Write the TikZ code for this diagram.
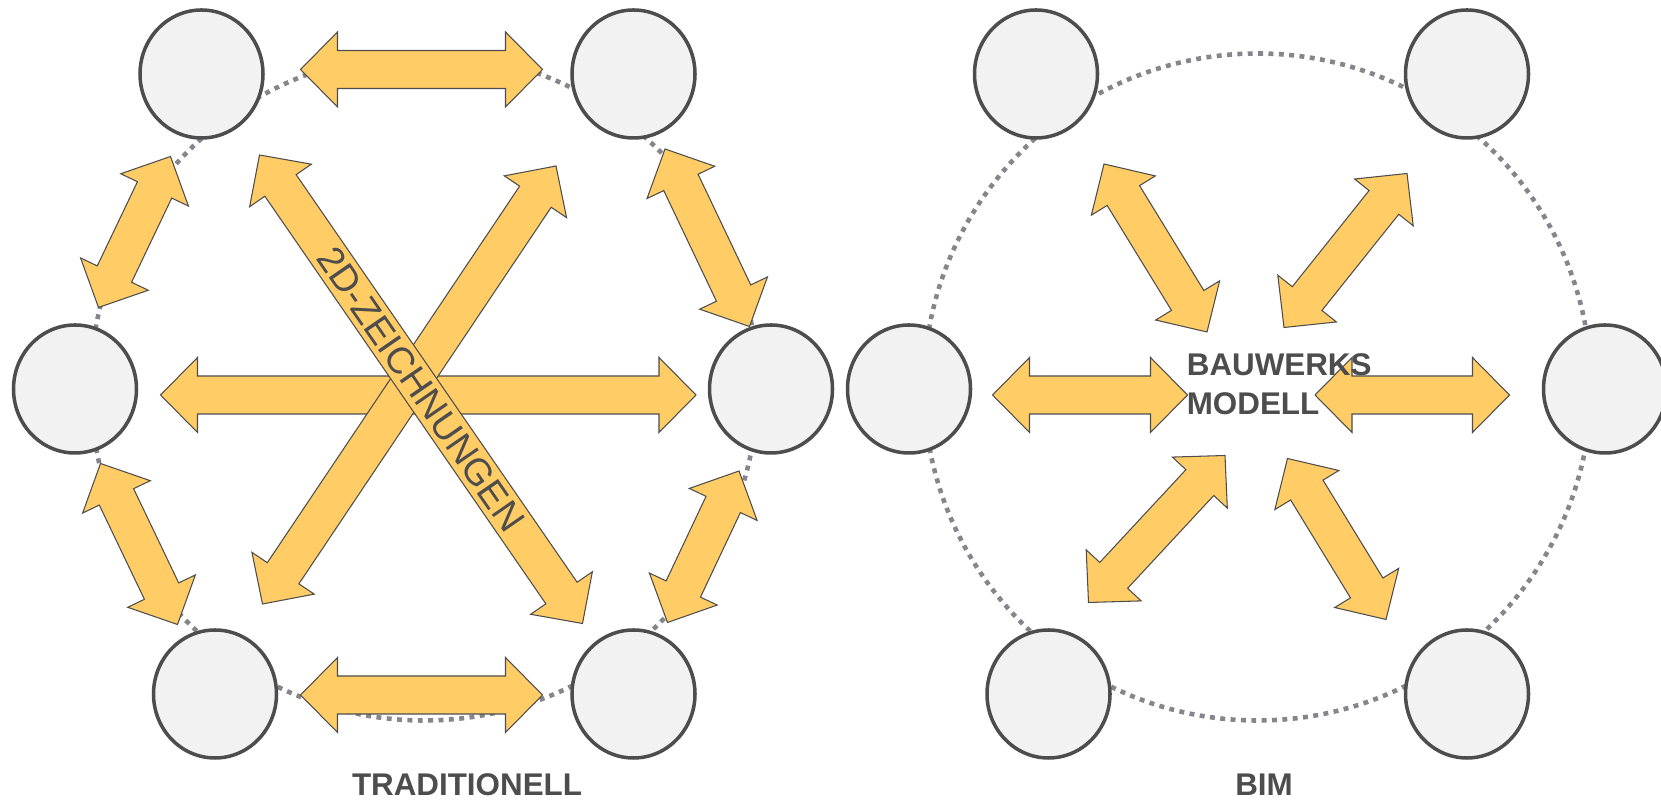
\documentclass[tikz,border=0pt]{standalone}
\usepackage{fontspec}
\setmainfont{Liberation Sans}
\usetikzlibrary{shapes.geometric,calc}

\definecolor{arrowfill}{HTML}{FFCC66}
\definecolor{darkline}{HTML}{4D4D4D}
\definecolor{partyfill}{HTML}{F2F2F2}
\definecolor{ringgray}{HTML}{85858C}

\tikzset{
  party/.style={ellipse, draw=darkline, line width=2pt, fill=partyfill, minimum width=2.46cm, minimum height=2.56cm, inner sep=0pt},
  ring/.style={draw=ringgray, line width=2.6pt, dash pattern=on 2.8pt off 3.1pt},
  farrow/.style={draw=darkline, line width=0.6pt, fill=arrowfill, line join=miter},
  caption/.style={text=darkline, font=\bfseries\fontsize{17.85}{22.3}\selectfont, inner sep=0pt},
  rotlabel/.style={text=darkline, font=\fontsize{21.3}{25}\selectfont, inner sep=0pt}
}

% fat double arrow between two named points
\newcommand{\fatarrow}[2]{%
  \draw[farrow] (#1)
    -- ($(#1)!0.74cm!(#2)!0.75cm!90:(#2)$)
    -- ($(#1)!0.74cm!(#2)!0.38cm!90:(#2)$)
    -- ($(#2)!0.74cm!(#1)!0.38cm!-90:(#1)$)
    -- ($(#2)!0.74cm!(#1)!0.75cm!-90:(#1)$)
    -- (#2)
    -- ($(#2)!0.74cm!(#1)!0.75cm!90:(#1)$)
    -- ($(#2)!0.74cm!(#1)!0.38cm!90:(#1)$)
    -- ($(#1)!0.74cm!(#2)!0.38cm!-90:(#2)$)
    -- ($(#1)!0.74cm!(#2)!0.75cm!-90:(#2)$)
    -- cycle;}

\begin{document}
\begin{tikzpicture}
    \useasboundingbox (0,0) rectangle (33.22,16);
    \coordinate (tradmid) at (8.48,8.26);
    \coordinate (bimmid) at (25.15,8.26);
    \draw[ring] (tradmid) circle (6.67);
    \draw[ring] (bimmid) circle (6.67);

    % traditionell: everybody with everybody
    \foreach \i/\ax/\ay/\bx/\by in {1/6.01/14.61/10.85/14.61, 2/3.41/12.87/1.97/9.85,
        3/13.30/13.02/14.99/9.47, 4/2.01/6.73/3.55/3.51, 5/14.78/6.58/13.35/3.55,
        6/6.01/2.10/10.85/2.10, 7/3.21/8.10/13.92/8.10, 8/11.12/12.68/5.25/3.92,
        9/5.19/12.90/11.65/3.53} {
        \coordinate (ta\i) at (\ax,\ay);
        \coordinate (tb\i) at (\bx,\by);
        \fatarrow{ta\i}{tb\i}
    }
    \path (ta9) -- (tb9) node[rotlabel, midway, sloped] {2D-ZEICHNUNGEN};

    % bim: everybody with the model
    \foreach \i/\ax/\ay/\bx/\by in {1/19.85/8.10/23.75/8.10, 2/26.30/8.10/30.19/8.10,
        3/22.08/12.72/24.14/9.36, 4/28.14/12.53/25.68/9.45,
        5/24.50/6.89/21.77/3.95, 6/25.75/6.83/27.72/3.61} {
        \coordinate (ba\i) at (\ax,\ay);
        \coordinate (bb\i) at (\bx,\by);
        \fatarrow{ba\i}{bb\i}
    }

    \foreach \n/\x/\y in {tl/4.03/14.52, tr/12.67/14.52, ml/1.50/8.22,
        mr/15.42/8.22, bl/4.30/2.12, br/12.67/2.12}
        \node[party] (trad\n) at (\x,\y) {};
    \foreach \n/\x/\y in {tl/20.72/14.52, tr/29.34/14.52, ml/18.18/8.22,
        mr/32.10/8.22, bl/20.97/2.12, br/29.34/2.12}
        \node[party] (bim\n) at (\x,\y) {};

    \node[caption, align=left, anchor=north west] (model) at (23.73,8.934) {BAUWERKS\\MODELL};
    \node[caption, anchor=base] (tradlabel) at (9.34,0.084) {TRADITIONELL};
    \node[caption, anchor=base] (bimlabel) at (25.28,0.084) {BIM};
\end{tikzpicture}
\end{document}
